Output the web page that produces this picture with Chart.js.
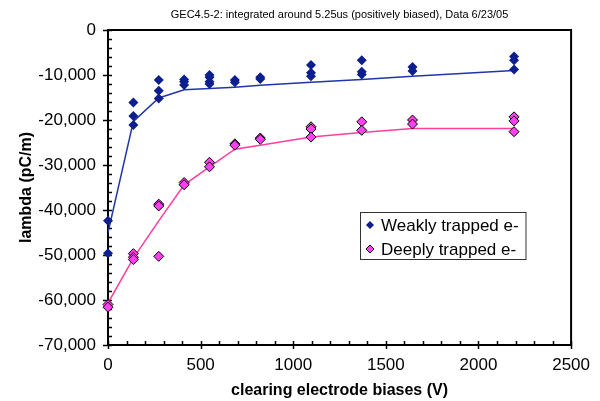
<!DOCTYPE html>
<html>
<head>
<meta charset="utf-8">
<script src="https://cdn.jsdelivr.net/npm/chart.js@4.4.0/dist/chart.umd.min.js"></script>
<style>
  body { margin: 0; background: #fff; }
  #wrap { width: 600px; height: 401px; }
</style>
</head>
<body>
<div id="wrap"><canvas id="chart" width="600" height="401"></canvas></div>
<script>
// clearing electrode bias settings (V)
const biases = [0, 137, 274, 411, 548, 685, 822, 1096, 1370, 1644, 2192];

// measured lambda (pC/m), one list per bias
const weakMeas = [
    [-42400, -49600],
    [-16100, -19100, -21100],
    [-11100, -13500, -15200],
    [-11000, -11500, -12200],
    [-10000, -10500, -11500, -12000],
    [-11100, -11600],
    [-10500, -10900],
    [-7800, -9500, -10300],
    [-6700, -9300, -9900],
    [-8200, -9100],
    [-5900, -6700, -8800]
];
const deepMeas = [
    [-61000, -61600],
    [-49700, -50500, -51000],
    [-38700, -39100, -50300],
    [-33900, -34400],
    [-29400, -30400],
    [-25300, -25600],
    [-24000, -24300],
    [-21500, -22000, -23800],
    [-20400, -22300],
    [-20000, -20900],
    [-19300, -20200, -22600]
];

// connecting lines
const weakLine = [-45000, -20300, -15100, -13300, -13000, -12700, -12300, -11600, -11000, -10300, -9000];
const deepLine = [-60700, -50700, -42400, -34400, -30400, -26500, -25600, -23800, -22800, -21900, -21900];

const seriesNames = ['Weakly trapped e-', 'Deeply trapped e-'];
const chartTitle = 'GEC4.5-2: integrated around 5.25us (positively biased), Data 6/23/05';
const xTicks = [0, 500, 1000, 1500, 2000, 2500];
const yTicks = [0, -10000, -20000, -30000, -40000, -50000, -60000, -70000];

function toPoints(meas) {
    const pts = [];
    meas.forEach(function (vals, i) {
        vals.forEach(function (v) { pts.push({ x: biases[i], y: v }); });
    });
    return pts;
}
function toLine(vals) {
    return vals.map(function (v, i) { return { x: biases[i], y: v }; });
}

const blue = '#0d1f8f';
const pink = '#ff40f0';
const fontFamily = '"Liberation Sans", Arial, sans-serif';

// frame and minor ticks go under the markers
const frame = {
    id: 'frame',
    beforeDatasetsDraw: function (chart) {
        const ctx = chart.ctx;
        const a = chart.chartArea;
        const xs = chart.scales.x;
        const ys = chart.scales.y;
        ctx.save();
        ctx.strokeStyle = '#000';
        ctx.lineWidth = 2;
        ctx.strokeRect(a.left, a.top, a.right - a.left, a.bottom - a.top);

        ctx.lineWidth = 1.5;
        ctx.beginPath();
        for (let v = 0; v >= -70000; v -= 2000) {
            const y = Math.round(ys.getPixelForValue(v)) + 0.5;
            const major = v % 10000 === 0;
            ctx.moveTo(a.left - (major ? 5 : 0), y);
            ctx.lineTo(a.left + 4, y);
        }
        for (let v = 0; v <= 2500; v += 100) {
            const x = Math.round(xs.getPixelForValue(v)) + 0.5;
            const major = v % 500 === 0;
            ctx.moveTo(x, a.bottom - 4);
            ctx.lineTo(x, a.bottom + (major ? 4 : 0));
        }
        ctx.stroke();
        ctx.restore();
    }
};

// title and the boxed legend
const overlay = {
    id: 'overlay',
    afterDraw: function (chart) {
        const ctx = chart.ctx;
        const a = chart.chartArea;
        ctx.save();
        ctx.fillStyle = '#000';
        ctx.font = '11px ' + fontFamily;
        ctx.textAlign = 'center';
        ctx.textBaseline = 'middle';
        ctx.fillText(chartTitle, (a.left + a.right) / 2, 15);

        ctx.fillStyle = '#fff';
        ctx.fillRect(360.5, 212.5, 165.5, 47);
        ctx.strokeStyle = '#333';
        ctx.lineWidth = 1;
        ctx.strokeRect(360.5, 212.5, 165.5, 47);
        ctx.font = '17px ' + fontFamily;
        ctx.textAlign = 'left';
        [[blue, null], [pink, '#000']].forEach(function (st, i) {
            const cy = 225 + i * 24;
            ctx.beginPath();
            ctx.moveTo(370, cy - 4);
            ctx.lineTo(374, cy);
            ctx.lineTo(370, cy + 4);
            ctx.lineTo(366, cy);
            ctx.closePath();
            ctx.fillStyle = st[0];
            ctx.fill();
            if (st[1]) { ctx.strokeStyle = st[1]; ctx.stroke(); }
            ctx.fillStyle = '#000';
            ctx.fillText(seriesNames[i], 381, cy + 1);
        });
        ctx.restore();
    }
};

new Chart(document.getElementById('chart'), {
    type: 'scatter',
    data: {
        datasets: [
            {
                label: seriesNames[0],
                data: toPoints(weakMeas),
                pointStyle: 'rectRot',
                pointRadius: 5,
                backgroundColor: blue,
                borderColor: blue,
                borderWidth: 0,
                clip: false,
                order: 1
            },
            {
                label: seriesNames[1],
                data: toPoints(deepMeas),
                pointStyle: 'rectRot',
                pointRadius: 5,
                backgroundColor: pink,
                borderColor: '#000',
                borderWidth: 1,
                clip: false,
                order: 1
            },
            {
                label: 'weak line',
                data: toLine(weakLine),
                showLine: true,
                pointRadius: 0,
                borderColor: '#2035a8',
                borderWidth: 1.5,
                order: 2
            },
            {
                label: 'deep line',
                data: toLine(deepLine),
                showLine: true,
                pointRadius: 0,
                borderColor: '#ff3d9e',
                borderWidth: 1.5,
                order: 2
            }
        ]
    },
    options: {
        responsive: false,
        animation: false,
        layout: { padding: { top: 30, right: 26, left: 0, bottom: 0 } },
        plugins: {
            legend: { display: false },
            tooltip: { enabled: false },
            title: { display: false }
        },
        scales: {
            x: {
                type: 'linear',
                min: 0,
                max: 2500,
                afterBuildTicks: function (s) { s.ticks = xTicks.map(function (v) { return { value: v }; }); },
                afterFit: function (s) { s.height = 56; },
                grid: { display: false, drawTicks: false },
                border: { display: false },
                ticks: {
                    padding: 10,
                    color: '#000',
                    font: { family: fontFamily, size: 17 },
                    callback: function (v) { return String(v); }
                },
                title: {
                    display: true,
                    text: 'clearing electrode biases (V)',
                    color: '#000',
                    padding: { top: 0, bottom: 1 },
                    font: { family: fontFamily, size: 16, weight: 'bold' }
                }
            },
            y: {
                type: 'linear',
                min: -70000,
                max: 0,
                afterBuildTicks: function (s) { s.ticks = yTicks.map(function (v) { return { value: v }; }); },
                afterFit: function (s) { s.width = 108; },
                grid: { display: false, drawTicks: false },
                border: { display: false },
                ticks: {
                    padding: 12,
                    color: '#000',
                    font: { family: fontFamily, size: 17 },
                    callback: function (v) { return Number(v).toLocaleString('en-US'); }
                },
                title: {
                    display: true,
                    text: 'lambda (pC/m)',
                    color: '#000',
                    padding: { top: 17, bottom: 0 },
                    font: { family: fontFamily, size: 16, weight: 'bold' }
                }
            }
        }
    },
    plugins: [frame, overlay]
});
</script>
</body>
</html>
